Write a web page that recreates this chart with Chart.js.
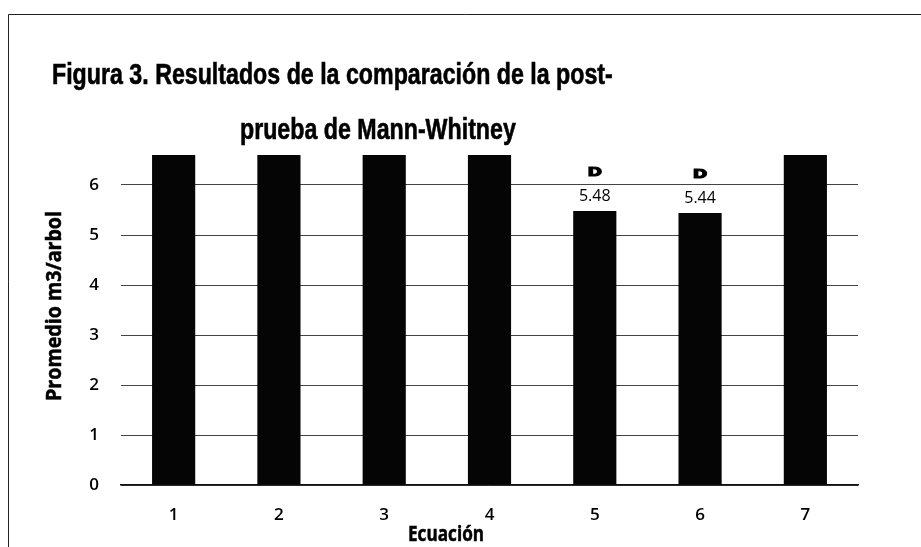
<!DOCTYPE html>
<html>
<head>
<meta charset="utf-8">
<script src="https://cdn.jsdelivr.net/npm/chart.js@4/dist/chart.umd.min.js"></script>
<style>
  html, body { margin: 0; padding: 0; background: #fff; }
  #wrap { width: 921px; height: 547px; position: relative; }
</style>
</head>
<body>
<div id="wrap"><canvas id="c" width="921" height="547"></canvas></div>
<script>
const categories = ['1', '2', '3', '4', '5', '6', '7'];
const values = [6.6, 6.6, 6.6, 6.6, 5.48, 5.44, 6.6];
const valueLabels = ['', '', '', '', '5.48', '5.44', ''];
const letterLabels = ['', '', '', '', 'D', 'D', ''];
const yTicks = [0, 1, 2, 3, 4, 5, 6];
const titleLines = ['Figura 3. Resultados de la comparación de la post-', 'prueba de Mann-Whitney'];
const xTitle = 'Ecuación';
const yTitle = 'Promedio m3/arbol';

const decor = {
  id: 'decor',
  beforeDraw(chart) {
    const ctx = chart.ctx;
    ctx.save();
    ctx.fillStyle = '#fff';
    ctx.fillRect(0, 0, chart.width, chart.height);
    ctx.strokeStyle = '#222';
    ctx.lineWidth = 1;
    ctx.beginPath();
    ctx.moveTo(8.5, 560);
    ctx.lineTo(8.5, 14.5);
    ctx.lineTo(930, 14.5);
    ctx.stroke();
    ctx.restore();
  },
  afterDraw(chart) {
    const ctx = chart.ctx;
    const ca = chart.chartArea;
    ctx.save();
    // title (condensed)
    ctx.fillStyle = '#000';
    ctx.strokeStyle = '#000';
    ctx.font = 'bold 29px "Liberation Sans", Arial, sans-serif';
    ctx.textBaseline = 'alphabetic';
    ctx.textAlign = 'left';
    const starts = [[52, 84], [240, 139]];
    titleLines.forEach((t, i) => {
      ctx.save();
      ctx.translate(starts[i][0], starts[i][1]);
      ctx.scale(0.8, 1);
      ctx.fillText(t, 0, 0);
      ctx.lineWidth = 0.6;
      ctx.strokeText(t, 0, 0);
      ctx.restore();
    });
    // axis titles
    ctx.font = 'bold 21px "Open Sans", sans-serif';
    ctx.textAlign = 'center';
    ctx.textBaseline = 'middle';
    ctx.lineWidth = 0.5;
    const xt = ca.left + (ca.right - ca.left) * 0.441;
    ctx.fillText(xTitle, xt, 535, 76);
    ctx.strokeText(xTitle, xt, 535, 76);
    ctx.save();
    ctx.translate(55, (ca.top + ca.bottom) / 2 - 14);
    ctx.rotate(-Math.PI / 2);
    ctx.fillText(yTitle, 0, 0, 190);
    ctx.strokeText(yTitle, 0, 0, 190);
    ctx.restore();
    // data labels
    const meta = chart.getDatasetMeta(0);
    meta.data.forEach((bar, i) => {
      if (valueLabels[i]) {
        ctx.font = '16px "Open Sans", sans-serif';
        ctx.fillText(valueLabels[i], bar.x, bar.y - 15);
      }
      if (letterLabels[i]) {
        ctx.save();
        ctx.translate(bar.x, bar.y - 38);
        ctx.scale(1.25, 0.85);
        ctx.font = 'bold 14px "DejaVu Sans", sans-serif';
        ctx.fillText(letterLabels[i], 0, 0);
        ctx.lineWidth = 1.2;
        ctx.strokeText(letterLabels[i], 0, 0);
        ctx.restore();
      }
    });
    ctx.restore();
  }
};

const tickFont = { family: '"Open Sans", sans-serif', size: 17, weight: '600' };

new Chart(document.getElementById('c'), {
  type: 'bar',
  data: {
    labels: categories,
    datasets: [{
      data: values,
      backgroundColor: '#050505',
      borderWidth: 0,
      barPercentage: 0.82,
      categoryPercentage: 0.5
    }]
  },
  options: {
    responsive: false,
    animation: false,
    events: [],
    layout: { padding: { left: 0, right: 63, top: 155, bottom: 0 } },
    plugins: {
      legend: { display: false },
      title: { display: false },
      tooltip: { enabled: false }
    },
    scales: {
      x: {
        grid: { display: false, drawTicks: false },
        border: { display: true, color: '#111', width: 1.5 },
        ticks: {
          color: '#000',
          padding: 20,
          font: tickFont,
          maxRotation: 0
        },
        afterFit(scale) { scale.height = 62; }
      },
      y: {
        min: 0,
        max: 6.6,
        grid: { color: '#444', lineWidth: 1, drawTicks: false },
        border: { display: false },
        ticks: {
          stepSize: 1,
          color: '#000',
          padding: 22,
          font: tickFont
        },
        afterBuildTicks(scale) {
          scale.ticks = yTicks.map(v => ({ value: v }));
        },
        afterFit(scale) { scale.width = 121; }
      }
    }
  },
  plugins: [decor]
});
</script>
</body>
</html>
